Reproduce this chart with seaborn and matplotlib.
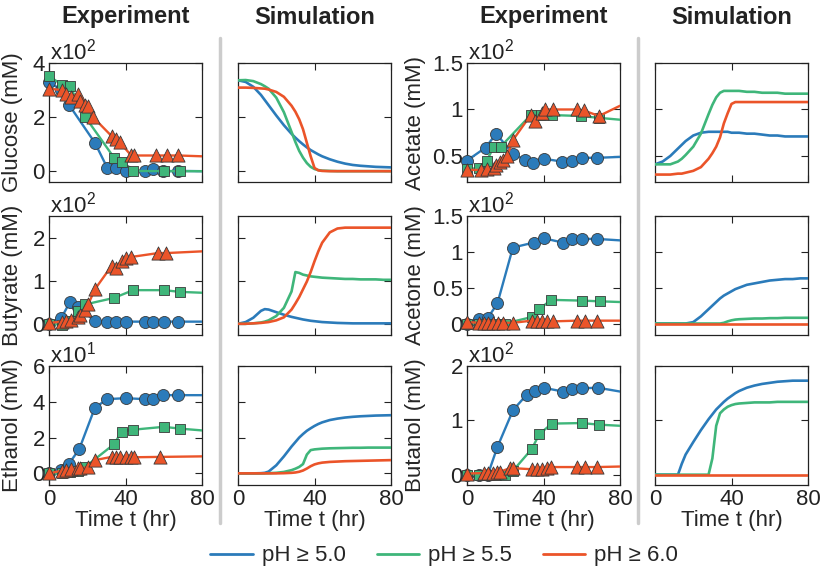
import matplotlib
matplotlib.use("Agg")
import matplotlib.pyplot as plt
import seaborn as sns
from matplotlib.lines import Line2D
from matplotlib.ticker import FormatStrFormatter

sns.set_theme(style="ticks")
plt.rcParams['font.family'] = ['Liberation Sans', 'DejaVu Sans']
plt.rcParams['mathtext.fontset'] = 'custom'
plt.rcParams['mathtext.rm'] = 'Liberation Sans'

# colours for the three pH conditions
c50, c55, c60 = '#2b7bba', '#3fb67a', '#eb5429'
labels = ['pH ≥ 5.0', 'pH ≥ 5.5', 'pH ≥ 6.0']

# ---------------- experiment data (last point = line end at t=80) -------------
# glucose (x10^2 mM)
glc_t50 = [0, 6.5, 10.5, 24, 30.5, 35, 40, 50, 54.6, 59.5, 67.7, 80]
glc_50 = [3.30, 3.00, 2.45, 1.05, 0.12, 0.11, 0.01, 0.01, 0.09, 0.0, 0.01, 0.0]
glc_t55 = [0, 6.6, 10.9, 19, 34, 38, 44, 60, 68.6, 80]
glc_55 = [3.52, 3.20, 3.15, 2.00, 0.50, 0.33, 0.01, 0.0, 0.0, 0.0]
glc_t60 = [0, 6.6, 9, 11.7, 15, 16, 18.7, 20.5, 23, 32.7, 35, 37, 43, 44.6, 56, 61.6, 67.7, 80]
glc_60 = [3.05, 3.0, 2.85, 2.75, 2.85, 2.6, 2.45, 2.4, 2.0, 1.3, 1.2, 1.07, 0.58, 0.58, 0.58, 0.58, 0.58, 0.55]

# butyrate (x10^2 mM)
but_t50 = [0, 6.5, 10.9, 15.2, 24, 30.5, 35, 40, 50, 54.6, 60, 67.7, 80]
but_50 = [0, 0.14, 0.5, 0.4, 0.06, 0.05, 0.05, 0.05, 0.05, 0.05, 0.05, 0.05, 0.05]
but_t55 = [0, 6.6, 10.9, 15.2, 19, 34, 44, 60, 68.6, 80]
but_55 = [0, -0.02, 0.06, 0.3, 0.45, 0.6, 0.78, 0.78, 0.74, 0.72]
but_t60 = [0, 6.6, 9, 11.7, 15, 16, 18.7, 20.5, 24, 32.7, 35, 38, 40, 43, 57, 61.3, 80]
but_60 = [0.02, 0.05, 0.06, 0.08, 0.15, 0.2, 0.33, 0.45, 0.8, 1.34, 1.3, 1.46, 1.53, 1.55, 1.64, 1.64, 1.68]

# ethanol (x10^1 mM)
eth_t50 = [0, 6.5, 10.5, 15.8, 24, 30.5, 40, 50, 54.6, 59.5, 67.7, 80]
eth_50 = [0, 0.2, 0.55, 1.35, 3.67, 4.15, 4.2, 4.15, 4.15, 4.37, 4.37, 4.37]
eth_t55 = [0, 6.6, 10.9, 15.2, 19, 34, 38, 44, 60, 68.6, 80]
eth_55 = [0, 0.0, 0.05, 0.12, 0.37, 1.63, 2.33, 2.44, 2.6, 2.5, 2.4]
eth_t60 = [0, 6.6, 9, 11.7, 15, 16, 20.5, 24, 32.7, 35, 37, 40, 43, 44.6, 58, 80]
eth_60 = [0, 0.15, 0.2, 0.25, 0.3, 0.3, 0.33, 0.74, 0.92, 0.92, 0.92, 0.92, 0.9, 0.9, 0.92, 0.95]

# acetate (x10^2 mM)
acetate_t50 = [0, 9.7, 15.3, 24, 30.3, 34.7, 40, 49.7, 55, 60, 68, 80]
acetate_50 = [0.45, 0.59, 0.74, 0.52, 0.46, 0.42, 0.47, 0.44, 0.45, 0.48, 0.48, 0.49]
acetate_t55 = [0, 6.5, 10.4, 14, 17.6, 33.3, 38.8, 44.4, 59.4, 69, 80]
acetate_55 = [0.36, 0.37, 0.45, 0.6, 0.6, 0.94, 0.94, 0.94, 0.93, 0.91, 0.89]
acetate_t60 = [0, 7.4, 10.4, 14, 15.3, 17, 19, 21, 24, 33.3, 35.6, 39, 41, 45, 57.6, 61, 69, 80]
acetate_60 = [0.35, 0.35, 0.36, 0.37, 0.4, 0.43, 0.46, 0.5, 0.67, 0.94, 0.88, 0.96, 1.0, 1.0, 1.0, 0.99, 0.93, 1.04]

# acetone (x10^2 mM)
acetone_t50 = [0, 6.5, 10.9, 15.9, 24, 35, 40, 50, 55, 60.2, 68.2, 80]
acetone_50 = [0, 0.07, 0.08, 0.28, 1.06, 1.13, 1.19, 1.13, 1.18, 1.18, 1.18, 1.16]
acetone_t55 = [0, 6.5, 10.9, 15, 19.7, 33.8, 37.9, 43.9, 59.9, 69.3, 80]
acetone_55 = [0, 0, 0, 0, 0, 0.09, 0.2, 0.33, 0.32, 0.31, 0.3]
acetone_t60 = [0, 6.5, 9, 10.9, 13.5, 16, 18.7, 24, 33.8, 36.5, 39, 41.7, 45, 57.3, 61.7, 68, 80]
acetone_60 = [0.02, 0.01, 0.01, 0.01, 0.01, 0.01, 0.01, 0.01, 0.04, 0.04, 0.04, 0.03, 0.03, 0.04, 0.04, 0.04, 0.04]

# butanol (x10^2 mM)
buol_t50 = [0, 6.5, 10.9, 15.9, 24.1, 31.2, 35.6, 40, 50.2, 55, 60.3, 68.5, 80]
buol_50 = [0, 0, 0, 0.51, 1.19, 1.47, 1.54, 1.6, 1.53, 1.58, 1.59, 1.6, 1.53]
buol_t55 = [0, 6.5, 10.9, 15, 19.7, 24, 33.8, 37.9, 44.4, 59.9, 69.2, 80]
buol_55 = [0, 0, 0, 0, 0, 0.07, 0.47, 0.75, 0.94, 0.95, 0.92, 0.9]
buol_t60 = [0, 9, 10.9, 13.5, 15.5, 17, 22.4, 24, 33.8, 36.5, 39, 41.7, 44, 57.3, 61.7, 68, 80]
buol_60 = [0.02, 0.03, 0.04, 0.04, 0.05, 0.05, 0.12, 0.12, 0.1, 0.1, 0.11, 0.12, 0.14, 0.14, 0.14, 0.14, 0.15]

# ---------------- simulation data ----------------
sim_t = [0, 4, 8, 12, 14, 16, 20, 24, 28, 30, 32, 34, 36, 38, 40, 42, 44, 48, 52, 56, 60, 64, 68, 72, 76, 80]

glc_sim50 = [3.36, 3.30, 3.12, 2.82, 2.63, 2.44, 2.06, 1.70, 1.38, 1.24, 1.11, 0.99, 0.88, 0.78, 0.70, 0.62, 0.55, 0.44, 0.35, 0.28, 0.23, 0.20, 0.18, 0.16, 0.15, 0.14]
glc_sim55 = [3.36, 3.37, 3.33, 3.22, 3.14, 3.05, 2.72, 2.18, 1.45, 1.08, 0.75, 0.50, 0.30, 0.16, 0.08, 0.04, 0.02, 0.01, 0, 0, 0, 0, 0, 0, 0, 0]
glc_sim60 = [3.09, 3.09, 3.08, 3.06, 3.05, 3.02, 2.93, 2.75, 2.42, 2.20, 1.92, 1.55, 1.05, 0.55, 0.12, 0.03, 0.01, 0, 0, 0, 0, 0, 0, 0, 0, 0]

but_sim50 = [0, 0.04, 0.14, 0.30, 0.34, 0.33, 0.27, 0.21, 0.16, 0.14, 0.12, 0.10, 0.085, 0.07, 0.06, 0.05, 0.04, 0.03, 0.02, 0.015, 0.01, 0.01, 0.01, 0.01, 0.01, 0.01]
but_sim55 = [0, 0, 0.01, 0.03, 0.05, 0.08, 0.18, 0.37, 0.75, 1.20, 1.18, 1.14, 1.12, 1.10, 1.09, 1.08, 1.07, 1.06, 1.05, 1.04, 1.04, 1.03, 1.03, 1.03, 1.02, 1.02]
but_sim60 = [0, 0, 0.01, 0.02, 0.03, 0.04, 0.08, 0.15, 0.33, 0.47, 0.62, 0.80, 0.98, 1.20, 1.45, 1.68, 1.88, 2.12, 2.21, 2.23, 2.23, 2.23, 2.23, 2.23, 2.23, 2.23]

eth_sim50 = [0, 0, 0, 0.01, 0.03, 0.10, 0.45, 0.95, 1.50, 1.75, 2.00, 2.20, 2.38, 2.52, 2.65, 2.76, 2.85, 2.98, 3.06, 3.12, 3.16, 3.19, 3.21, 3.23, 3.24, 3.25]
eth_sim55 = [0, 0, 0, 0, 0, 0.01, 0.03, 0.08, 0.18, 0.26, 0.36, 0.52, 1.05, 1.30, 1.34, 1.36, 1.38, 1.40, 1.41, 1.42, 1.43, 1.43, 1.44, 1.44, 1.44, 1.44]
eth_sim60 = [0, 0, 0, 0, 0, 0, 0, 0.01, 0.03, 0.05, 0.09, 0.16, 0.27, 0.40, 0.50, 0.56, 0.60, 0.64, 0.66, 0.68, 0.69, 0.70, 0.71, 0.72, 0.73, 0.74]

acetate_sim50 = [0.41, 0.44, 0.50, 0.58, 0.62, 0.66, 0.72, 0.75, 0.76, 0.76, 0.76, 0.76, 0.76, 0.76, 0.75, 0.75, 0.75, 0.74, 0.74, 0.73, 0.72, 0.72, 0.71, 0.71, 0.71, 0.71]
acetate_sim55 = [0.41, 0.41, 0.41, 0.44, 0.47, 0.51, 0.60, 0.74, 0.95, 1.05, 1.13, 1.18, 1.20, 1.20, 1.20, 1.20, 1.20, 1.19, 1.19, 1.18, 1.18, 1.18, 1.17, 1.17, 1.17, 1.17]
acetate_sim60 = [0.30, 0.30, 0.30, 0.31, 0.31, 0.32, 0.34, 0.38, 0.47, 0.53, 0.60, 0.70, 0.85, 0.96, 1.06, 1.08, 1.08, 1.08, 1.08, 1.08, 1.08, 1.08, 1.08, 1.08, 1.08, 1.08]

acetone_sim50 = [0, 0, 0, 0, 0, 0, 0.02, 0.10, 0.20, 0.25, 0.30, 0.35, 0.39, 0.42, 0.45, 0.48, 0.50, 0.54, 0.56, 0.58, 0.60, 0.61, 0.62, 0.62, 0.63, 0.63]
acetone_sim55 = [0, 0, 0, 0, 0, 0, 0, 0, 0, 0, 0, 0, 0.01, 0.03, 0.045, 0.055, 0.06, 0.065, 0.07, 0.07, 0.075, 0.075, 0.08, 0.08, 0.08, 0.08]
acetone_sim60 = [0, 0, 0, 0, 0, 0, 0, 0, 0, 0, 0, 0, 0, 0, 0, 0, 0, 0, 0, 0, 0, 0, 0, 0, 0, 0]

buol_sim50 = [0, 0, 0, 0, 0.20, 0.37, 0.60, 0.82, 1.02, 1.11, 1.20, 1.27, 1.34, 1.40, 1.45, 1.50, 1.54, 1.60, 1.64, 1.67, 1.69, 1.71, 1.72, 1.73, 1.73, 1.73]
buol_sim55 = [0, 0, 0, 0, 0, 0, 0, 0, 0, 0.30, 0.90, 1.13, 1.20, 1.25, 1.28, 1.30, 1.31, 1.32, 1.33, 1.33, 1.33, 1.34, 1.34, 1.34, 1.34, 1.34]
buol_sim60 = [0, 0, 0, 0, 0, 0, 0, 0, 0, 0, 0, 0, 0, 0, 0, 0, 0, 0, 0, 0, 0, 0, 0, 0, 0, 0]

# ---------------- layout (pixel boxes) ----------------
W, H = 826, 570
fig = plt.figure(figsize=(W / 100, H / 100), dpi=100)
col_left = [49, 238, 467, 655]
row_top = [63, 216, 366]
aw, ah = 153, 119
FS = 16


def make_ax(r, c):
    return fig.add_axes([col_left[c] / W, 1 - (row_top[r] + ah) / H, aw / W, ah / H])


def style_ax(ax, ylim, yticks, show_y, show_x, ylabel=None, mult=None, lab_x=-0.17):
    ax.set_xlim(0, 80)
    ax.set_ylim(*ylim)
    ax.set_xticks([0, 40, 80])
    ax.set_yticks(yticks)
    ax.yaxis.set_major_formatter(FormatStrFormatter('%g'))
    ax.tick_params(direction='in', top=True, right=True, length=5, width=0.8,
                   labelsize=FS, colors='#222222', pad=3,
                   labelleft=show_y, labelbottom=show_x)
    for s in ax.spines.values():
        s.set_linewidth(0.9)
        s.set_color('#222222')
    ax.set_xlabel('Time t (hr)' if show_x else '', fontsize=FS, labelpad=0)
    if ylabel:
        # label coordinate marks the right edge of the rotated text
        ax.set_ylabel(ylabel, fontsize=FS)
        ax.yaxis.set_label_coords(lab_x, 0.5)
    else:
        ax.set_ylabel('')
    if mult:
        ax.text(0.005, 0.99, 'x$\\mathregular{10^{%d}}$' % mult, transform=ax.transAxes,
                ha='left', va='bottom', fontsize=FS, color='#222222')


def exp_panel(ax, series):
    marks = [('o', 75), ('s', 50), ('^', 90)]
    for i, ((t, y), col) in enumerate(zip(series, [c50, c55, c60])):
        sns.lineplot(x=t, y=y, color=col, lw=1.7, ax=ax, sort=False,
                     estimator=None, zorder=3 + i * 2)
        m, s = marks[i]
        sns.scatterplot(x=t[:-1], y=y[:-1], marker=m, s=s, color=col,
                        edgecolor='#3a3a3a', linewidth=0.6, ax=ax,
                        zorder=4 + i * 2, clip_on=False, legend=False)


def sim_panel(ax, series):
    for i, (y, col) in enumerate(zip(series, [c50, c55, c60])):
        sns.lineplot(x=sim_t, y=y, color=col, lw=1.9, ax=ax, sort=False,
                     estimator=None, zorder=3 + i)


panels = [
    # (row, col_exp, exp series, sim series, ylim, yticks, ylabel, mult, label x)
    (0, 0, [(glc_t50, glc_50), (glc_t55, glc_55), (glc_t60, glc_60)],
     [glc_sim50, glc_sim55, glc_sim60], (-0.4, 4), [0, 2, 4], 'Glucose (mM)', 2, -0.17),
    (1, 0, [(but_t50, but_50), (but_t55, but_55), (but_t60, but_60)],
     [but_sim50, but_sim55, but_sim60], (-0.26, 2.5), [0, 1, 2], 'Butyrate (mM)', 2, -0.17),
    (2, 0, [(eth_t50, eth_50), (eth_t55, eth_55), (eth_t60, eth_60)],
     [eth_sim50, eth_sim55, eth_sim60], (-0.65, 6), [0, 2, 4, 6], 'Ethanol (mM)', 1, -0.17),
    (0, 2, [(acetate_t50, acetate_50), (acetate_t55, acetate_55), (acetate_t60, acetate_60)],
     [acetate_sim50, acetate_sim55, acetate_sim60], (0.22, 1.5), [0.5, 1, 1.5], 'Acetate (mM)', 2, -0.27),
    (1, 2, [(acetone_t50, acetone_50), (acetone_t55, acetone_55), (acetone_t60, acetone_60)],
     [acetone_sim50, acetone_sim55, acetone_sim60], (-0.16, 1.5), [0, 0.5, 1, 1.5], 'Acetone (mM)', 2, -0.27),
    (2, 2, [(buol_t50, buol_50), (buol_t55, buol_55), (buol_t60, buol_60)],
     [buol_sim50, buol_sim55, buol_sim60], (-0.19, 2), [0, 1, 2], 'Butanol (mM)', 2, -0.27),
]

for r, c, exp_s, sim_s, ylim, yt, ylab, mult, lx in panels:
    ax = make_ax(r, c)
    exp_panel(ax, exp_s)
    style_ax(ax, ylim, yt, True, r == 2, ylab, mult, lx)
    ax2 = make_ax(r, c + 1)
    sim_panel(ax2, sim_s)
    style_ax(ax2, ylim, yt, False, r == 2)

# column titles
for c, title in enumerate(['Experiment', 'Simulation', 'Experiment', 'Simulation']):
    fig.text((col_left[c] + aw / 2) / W, 1 - 17 / H, title, ha='center', va='center',
             fontsize=17, fontweight='bold', color='#222222')

# grey separators
for x in [220, 638]:
    fig.add_artist(Line2D([x / W, x / W], [1 - 38 / H, 1 - 523 / H],
                          color='#cccccc', lw=2.5))

handles = [Line2D([], [], color=col, lw=2) for col in [c50, c55, c60]]
fig.legend(handles, labels, loc='center', bbox_to_anchor=(444 / W, 1 - 556 / H),
           ncol=3, frameon=False, fontsize=FS, handlelength=1.9,
           handletextpad=0.4, columnspacing=1.4)

fig.savefig('out.png', dpi=100)
